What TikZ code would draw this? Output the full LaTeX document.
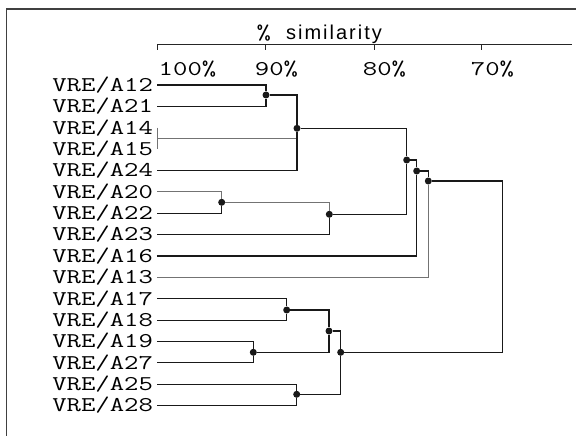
\documentclass[tikz,border=0pt]{standalone}
\usepackage{fontspec}
\usepackage{graphicx}
\usepackage{tikz}
\usetikzlibrary{positioning}
\newfontfamily\simfont[LetterSpace=10]{Liberation Sans}
\newcommand{\stretchtt}[1]{\scalebox{1.33}[1]{#1}}
\tikzset{
  leaf/.style={anchor=east, inner sep=0pt, outer xsep=4pt, outer ysep=0pt,
               text height=12.8pt, text depth=0pt,
               font=\ttfamily\fontsize{21}{21}\selectfont},
  scalelbl/.style={leaf, anchor=center, outer xsep=0pt},
  dot/.style={circle, fill=black!90, inner sep=0pt, minimum size=7pt},
  link/.style={draw=black!90, line width=1.1pt},
  faint/.style={draw=black!55, line width=0.8pt},
  axis/.style={draw=black!85, line width=0.9pt},
  frame/.style={draw=black!75, line width=1.2pt},
}
\begin{document}
\begin{tikzpicture}[x=1pt, y=-1pt, node distance=8.57pt]
  \useasboundingbox (0,0) rectangle (576,436);

  % Frame
  \coordinate (fr) at (576,9);
  \coordinate (fb) at (6.7,436);
  \draw[frame] (fr) -| (fb);

  % Similarity axis
  \coordinate (t100) at (157.3,44.3);
  \coordinate (t90) at (265.7,44.3);
  \coordinate (t80) at (374,44.3);
  \coordinate (t70) at (481.7,44.3);
  \coordinate (tend) at (572,44.3);
  \draw[axis] (t100) -- (tend);
  \draw[axis] (t100) -- ++(0,6);
  \draw[axis] (t90) -- ++(0,6);
  \draw[axis] (t80) -- ++(0,6);
  \draw[axis] (t70) -- ++(0,6);

  \node[scalelbl] (l100) at (187.5,69) {\stretchtt{100\%}};
  \node[scalelbl] (l90) at (276.5,69) {\stretchtt{90\%}};
  \node[scalelbl] (l80) at (384.5,69) {\stretchtt{80\%}};
  \node[scalelbl] (l70) at (492.5,69) {\stretchtt{70\%}};

  \node[anchor=base west, inner sep=0pt] (title) at (256.5,39.3)
    {{\ttfamily\fontsize{21}{21}\selectfont\stretchtt{\%}}\hspace{15pt}{\simfont\fontsize{20}{20}\selectfont similarity}};

  % Leaves
  \node[leaf] (a12) at (157,85) {\stretchtt{VRE/A12}};
  \node[leaf, below=of a12] (a21) {\stretchtt{VRE/A21}};
  \node[leaf, below=of a21] (a14) {\stretchtt{VRE/A14}};
  \node[leaf, below=of a14] (a15) {\stretchtt{VRE/A15}};
  \node[leaf, below=of a15] (a24) {\stretchtt{VRE/A24}};
  \node[leaf, below=of a24] (a20) {\stretchtt{VRE/A20}};
  \node[leaf, below=of a20] (a22) {\stretchtt{VRE/A22}};
  \node[leaf, below=of a22] (a23) {\stretchtt{VRE/A23}};
  \node[leaf, below=of a23] (a16) {\stretchtt{VRE/A16}};
  \node[leaf, below=of a16] (a13) {\stretchtt{VRE/A13}};
  \node[leaf, below=of a13] (a17) {\stretchtt{VRE/A17}};
  \node[leaf, below=of a17] (a18) {\stretchtt{VRE/A18}};
  \node[leaf, below=of a18] (a19) {\stretchtt{VRE/A19}};
  \node[leaf, below=of a19] (a27) {\stretchtt{VRE/A27}};
  \node[leaf, below=of a27] (a25) {\stretchtt{VRE/A25}};
  \node[leaf, below=of a25] (a28) {\stretchtt{VRE/A28}};

  % Joins
  \node[dot] (j1) at (266,95) {};
  \node[dot] (j2) at (297,128.3) {};
  \node[dot] (j3) at (221.7,202.3) {};
  \node[dot] (j4) at (329.3,214.3) {};
  \node[dot] (j5) at (406.7,160) {};
  \node[dot] (j6) at (416.7,171) {};
  \node[dot] (j7) at (428.3,181) {};
  \node[dot] (j8) at (286.7,310) {};
  \node[dot] (j9) at (253.3,352.3) {};
  \node[dot] (j10) at (329,331) {};
  \node[dot] (j11) at (296.7,394.3) {};
  \node[dot] (j12) at (340.7,352.3) {};
  \coordinate (root) at (502.7,266);

  % Upper group
  \draw[link] (a12.east) -| (j1);
  \draw[link] (a21.east) -| (j1);
  \draw[faint] (a14.east) -- coordinate[midway] (j0) (a15.east);
  \draw[faint] (j0) -- (j0 -| j2);
  \draw[link] (j1) -| (j2);
  \draw[link] (a24.east) -| (j2);
  \draw[faint] (a20.east) -| (j3);
  \draw[link] (a22.east) -| (j3);
  \draw[faint] (j3) -| (j4);
  \draw[link] (a23.east) -| (j4);
  \draw[link] (j2) -| (j5);
  \draw[link] (j4) -| (j5);
  \draw[link] (j5) -| (j6);
  \draw[link] (a16.east) -| (j6);
  \draw[link] (j6) -| (j7);
  \draw[faint] (a13.east) -| (j7);

  % Lower group
  \draw[link] (a17.east) -| (j8);
  \draw[link] (a18.east) -| (j8);
  \draw[link] (a19.east) -| (j9);
  \draw[link] (a27.east) -| (j9);
  \draw[link] (j8) -| (j10);
  \draw[link] (j9) -| (j10);
  \draw[link] (a25.east) -| (j11);
  \draw[link] (a28.east) -| (j11);
  \draw[link] (j10) -| (j12);
  \draw[link] (j11) -| (j12);

  % Root
  \draw[link] (j7) -| (root);
  \draw[link] (j12) -| (root);
\end{tikzpicture}
\end{document}
